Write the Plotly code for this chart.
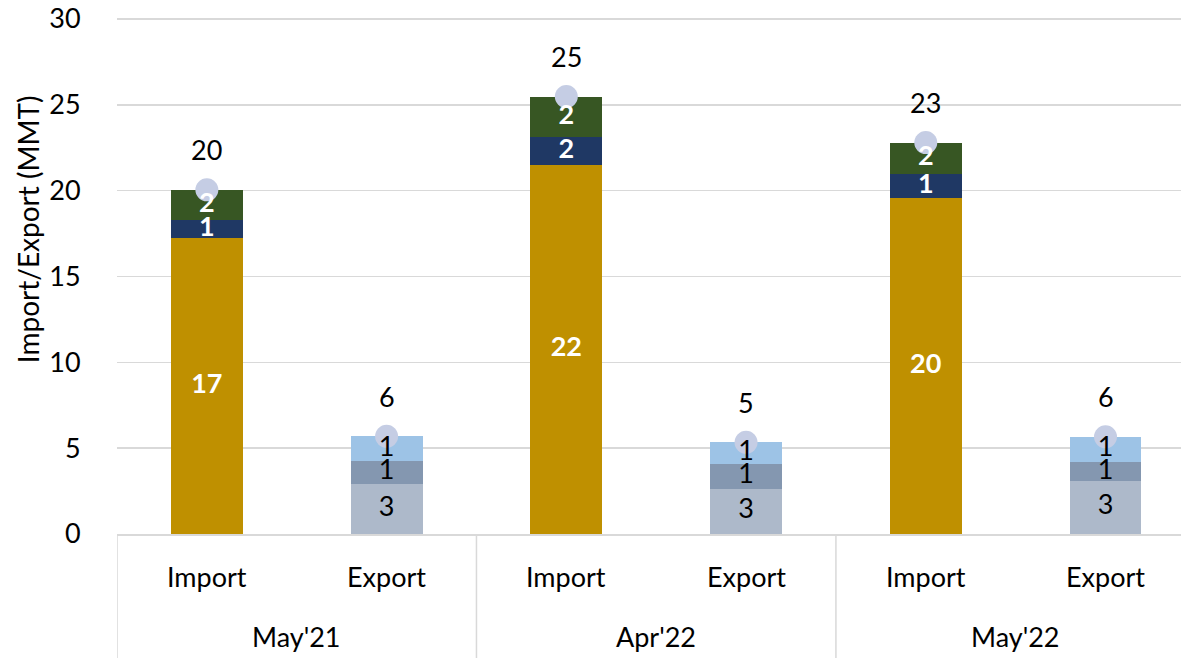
import plotly.graph_objects as go

# ---- data ----
periods = ["May'21", "Apr'22", "May'22"]
flow_types = ["Import", "Export"]

import_main = [17.24, 21.52, 19.57]
import_mid = [1.06, 1.58, 1.40]
import_top = [1.75, 2.38, 1.83]

export_bottom = [2.94, 2.65, 3.06]
export_mid = [1.30, 1.40, 1.12]
export_top = [1.45, 1.29, 1.48]

import_total = [a + b + c for a, b, c in zip(import_main, import_mid, import_top)]
export_total = [a + b + c for a, b, c in zip(export_bottom, export_mid, export_top)]

# ---- positions ----
n = len(periods)
x_import = [2 * i for i in range(n)]
x_export = [2 * i + 1 for i in range(n)]

FONT = "Lato"
FS = 27
GRID = "#d9d9d9"
BW = 0.4

fig = go.Figure()

import_segs = [(import_main, "#bf9000"), (import_mid, "#1f3864"), (import_top, "#375623")]
export_segs = [(export_bottom, "#adb9ca"), (export_mid, "#8497b0"), (export_top, "#9dc3e6")]

for x, segs in [(x_import, import_segs), (x_export, export_segs)]:
    for vals, color in segs:
        fig.add_trace(go.Bar(
            x=x, y=vals, width=BW, marker=dict(color=color, line=dict(width=0)),
            showlegend=False, hoverinfo="skip",
        ))

all_x = x_import + x_export
all_tot = import_total + export_total
fig.add_trace(go.Scatter(
    x=all_x, y=all_tot, mode="markers",
    marker=dict(size=23, color="#c5cde4"), showlegend=False, hoverinfo="skip",
))

# segment labels (drawn above the markers), at each segment's midpoint
for x, segs, color, bold in [(x_import, import_segs, "white", True),
                             (x_export, export_segs, "black", False)]:
    base = [0.0] * n
    for vals, _ in segs:
        mids = [b + v / 2 for b, v in zip(base, vals)]
        txt = [f"<b>{v:.0f}</b>" if bold else f"{v:.0f}" for v in vals]
        fig.add_trace(go.Scatter(
            x=x, y=mids, mode="text", text=txt, textposition="middle center",
            textfont=dict(family=FONT, size=FS, color=color),
            showlegend=False, hoverinfo="skip",
        ))
        base = [b + v for b, v in zip(base, vals)]

annotations = []
for xv, tv in zip(all_x, all_tot):
    annotations.append(dict(
        x=xv, y=tv, xref="x", yref="y", text=f"{tv:.0f}", showarrow=False,
        yshift=40, font=dict(family=FONT, size=FS, color="black"),
    ))

# category labels
for i in range(n):
    for j, t in enumerate(flow_types):
        annotations.append(dict(
            x=2 * i + j, y=0, xref="x", yref="paper", text=t, showarrow=False,
            yanchor="middle", yshift=-42, font=dict(family=FONT, size=FS, color="black"),
        ))
    annotations.append(dict(
        x=2 * i + 0.5, y=0, xref="x", yref="paper", text=periods[i], showarrow=False,
        yanchor="middle", yshift=-102, font=dict(family=FONT, size=FS, color="black"),
    ))

# y-axis title
annotations.append(dict(
    x=-0.084, y=0.59, xref="paper", yref="paper", text="Import/Export (MMT)",
    textangle=-90, showarrow=False, xanchor="center", yanchor="middle",
    font=dict(family=FONT, size=28, color="black"),
))

shapes = []
for xv in [-0.5, 1.5, 3.5, 5.5]:
    shapes.append(dict(type="line", xref="x", yref="paper", x0=xv, x1=xv, y0=0, y1=-0.3,
                       line=dict(color=GRID, width=1.5), layer="below"))

fig.update_layout(
    width=1181, height=658,
    margin=dict(l=117, r=0, t=18, b=124, autoexpand=False),
    paper_bgcolor="white", plot_bgcolor="white",
    barmode="stack", bargap=0,
    font=dict(family=FONT, size=FS, color="black"),
    annotations=annotations, shapes=shapes,
    xaxis=dict(range=[-0.5, 5.42], showticklabels=False, showgrid=False, zeroline=False,
               showline=True, linecolor=GRID, linewidth=1.5, fixedrange=True,
               automargin=False),
    yaxis=dict(range=[0, 30.06], tickvals=[0, 5, 10, 15, 20, 25, 30],
               showgrid=True, gridcolor=GRID, gridwidth=1.5,
               zeroline=False, showline=False, ticks="outside", ticklen=30,
               tickcolor="rgba(0,0,0,0)", automargin=False, ticklabeloverflow="allow",
               fixedrange=True, tickfont=dict(family=FONT, size=FS, color="black")),
)

fig.write_html(
    "out.html",
    config={"displayModeBar": False, "staticPlot": True},
    post_script="document.body.style.margin='0';document.body.style.overflow='hidden';",
)
